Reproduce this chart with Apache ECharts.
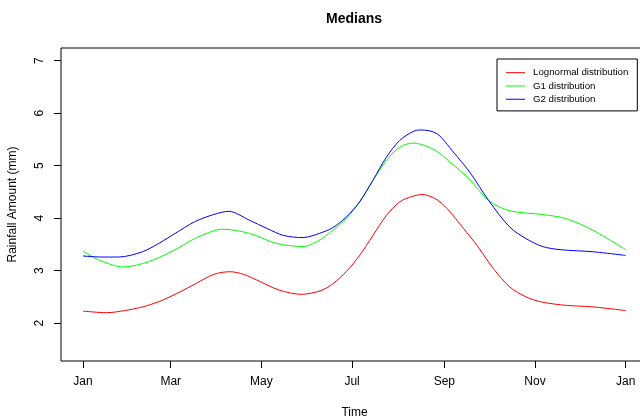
<!DOCTYPE html>
<html>
<head>
<meta charset="utf-8">
<script src="https://cdn.jsdelivr.net/npm/echarts@6/dist/echarts.min.js"></script>
<style>
html,body{margin:0;padding:0;background:#fff;}
#chart{width:640px;height:418px;}
</style>
</head>
<body>
<div id="chart"></div>
<script>
// Month tick positions (day of year) and labels
const monthDays = [0, 59, 120, 181, 243, 304, 365];
const monthLabels = ['Jan', 'Mar', 'May', 'Jul', 'Sep', 'Nov', 'Jan'];
const yTicks = [2, 3, 4, 5, 6, 7];

// Series: [day, median rainfall (mm)]
const lognormal = [[0,2.23],[16,2.20],[28,2.24],[40,2.31],[51,2.41],[62,2.55],[73,2.71],[88,2.93],[99,2.98],[108,2.93],[117,2.82],[132,2.63],[147,2.55],[160,2.62],[168,2.75],[177,2.98],[186,3.29],[195,3.67],[204,4.05],[213,4.31],[221,4.41],[228,4.45],[237,4.37],[245,4.18],[256,3.80],[265,3.48],[276,3.04],[287,2.69],[298,2.50],[309,2.40],[325,2.34],[343,2.31],[365,2.24]];
const g1 = [[0,3.37],[11,3.20],[27,3.07],[44,3.17],[62,3.40],[75,3.61],[88,3.76],[94,3.79],[112,3.71],[130,3.52],[148,3.46],[159,3.58],[168,3.77],[177,3.99],[186,4.31],[195,4.72],[204,5.10],[213,5.35],[222,5.43],[232,5.36],[240,5.23],[248,5.04],[260,4.74],[273,4.33],[287,4.14],[309,4.07],[325,3.99],[343,3.77],[365,3.40]];
const g2 = [[0,3.28],[12,3.26],[24,3.26],[40,3.36],[51,3.52],[62,3.71],[75,3.93],[88,4.07],[98,4.13],[112,3.96],[124,3.80],[135,3.67],[148,3.63],[159,3.71],[168,3.82],[177,4.02],[186,4.31],[195,4.72],[204,5.16],[213,5.48],[222,5.65],[227,5.68],[238,5.61],[249,5.26],[260,4.88],[273,4.33],[287,3.83],[298,3.61],[309,3.46],[321,3.40],[343,3.36],[365,3.29]];

const seriesNames = ['Lognormal distribution', 'G1 distribution', 'G2 distribution'];
const seriesColors = ['#FF0000', '#00FF00', '#0000FF'];
const seriesData = [lognormal, g1, g2];

const chart = echarts.init(document.getElementById('chart'), null, {renderer: 'canvas'});
const font = 'Liberation Sans, Arial, sans-serif';

chart.setOption({
  animation: false,
  backgroundColor: '#fff',
  textStyle: {fontFamily: font},
  title: {
    text: 'Medians',
    left: 326, top: 12, padding: 0,
    textStyle: {fontFamily: font, fontSize: 14, fontWeight: 'bold', color: '#000'}
  },
  legend: {
    orient: 'vertical',
    left: 497, top: 59,
    padding: [7, 9, 5, 9],
    itemGap: 0,
    itemWidth: 19, itemHeight: 1,
    icon: 'rect',
    borderColor: '#000', borderWidth: 1,
    textStyle: {fontFamily: font, fontSize: 9.7, color: '#000', lineHeight: 13.3, padding: [0,0,0,3]},
    data: seriesNames
  },
  grid: {
    left: 61, top: 48, width: 587, height: 313,
    outerBoundsMode: 'none',
    containLabel: false,
    show: true, borderColor: '#000', borderWidth: 1, backgroundColor: 'transparent'
  },
  xAxis: {
    type: 'value',
    min: -14.8, max: 380,
    name: 'Time', nameLocation: 'middle', nameGap: 46,
    nameTextStyle: {fontFamily: font, fontSize: 12, color: '#000'},
    axisLine: {show: false, onZero: false},
    splitLine: {show: false},
    axisTick: {show: true, length: 7, lineStyle: {color: '#000'}, customValues: monthDays},
    axisLabel: {
      fontFamily: font, fontSize: 12, color: '#000', margin: 15,
      customValues: monthDays,
      formatter: function (v) { const i = monthDays.indexOf(v); return i >= 0 ? monthLabels[i] : ''; }
    }
  },
  yAxis: {
    type: 'value',
    min: 1.28, max: 7.24,
    name: 'Rainfall Amount (mm)', nameLocation: 'middle', nameGap: 42,
    nameTextStyle: {fontFamily: font, fontSize: 12, color: '#000'},
    axisLine: {show: false, onZero: false},
    splitLine: {show: false},
    axisTick: {show: true, length: 7, lineStyle: {color: '#000'}, customValues: yTicks},
    axisLabel: {
      fontFamily: font, fontSize: 12, color: '#000', margin: 15, rotate: 90,
      customValues: yTicks
    }
  },
  series: seriesData.map(function (d, i) {
    return {
      name: seriesNames[i],
      type: 'line',
      data: d,
      smooth: 0.3,
      symbol: 'none',
      color: seriesColors[i],
      lineStyle: {width: 1, color: seriesColors[i]},
      itemStyle: {color: seriesColors[i]}
    };
  })
});
</script>
</body>
</html>
